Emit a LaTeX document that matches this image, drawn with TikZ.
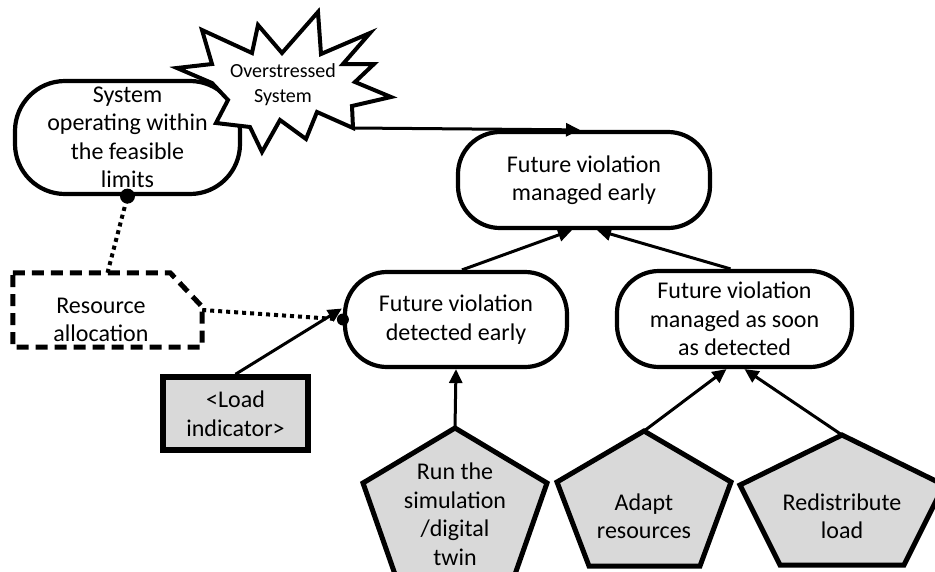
\documentclass[tikz,border=0pt]{standalone}
\usepackage{fontspec}
\setmainfont{Carlito}
\usetikzlibrary{arrows.meta,calc}
\newcommand\mainfs{\fontsize{24}{28.5}\selectfont}
\newcommand\starfs{\fontsize{20}{25}\selectfont}
\definecolor{taskgray}{HTML}{D9D9D9}
\begin{document}
\begin{tikzpicture}[x=1pt,y=-1pt,
  goal/.style={draw,line width=4.2pt,rounded corners=42pt,inner sep=0pt,align=center,font=\mainfs},
  task/.style={draw,line width=5pt,fill=taskgray,line join=miter},
  conn/.style={line width=3pt,-{Triangle[length=14pt,width=13pt]}},
  dotconn/.style={line width=4pt,dash pattern=on 4pt off 4pt},
  lbl/.style={inner sep=0pt,align=center,font=\mainfs}
]
\useasboundingbox (0,0) rectangle (935,571);
\clip (0,0) rectangle (935,571);

% goal nodes
\node[goal,minimum width=225pt,minimum height=113pt,rounded corners=50pt] (A) at (127.5,137.5) {System\\operating within\\the feasible\\limits};

% starburst
\draw[line width=4pt,fill=white,line join=miter] (202,30) -- (252,53) -- (258,25) -- (282,53) -- (318,12) -- (321,54) -- (370,33) -- (343,64) -- (374,64) -- (355,82) -- (391,97) -- (352,106) -- (353,128) -- (317,112) -- (306,139) -- (280,120) -- (262,152) -- (250,127) -- (216,123) -- (228,100) -- (212,83) -- (177,68) -- (212,64) -- cycle;
\node[inner sep=0pt,align=center,font=\starfs] (B) at (283,85) {Overstressed\\System};
\coordinate (Bc) at (353,128);

\node[goal,minimum width=252pt,minimum height=96pt] (C) at (584,180) {Future violation\\managed early};
\node[goal,minimum width=222pt,minimum height=95pt] (D) at (456,319.5) {Future violation\\detected early};
\node[goal,minimum width=235pt,minimum height=96pt] (E) at (734.5,319) {Future violation\\managed as soon\\as detected};

% resource allocation
\node[minimum width=189pt,minimum height=74pt,inner sep=0pt] (F) at (107.5,310) {};
\draw[line width=5pt,dash pattern=on 12pt off 7pt] (F.north west) -- ($(F.north east)+(-32,0)$) -- ($(F.north east)+(0,34)$) -- (F.south east) -- (F.south west) -- cycle;
\node[lbl] (Ft) at (101,320) {Resource\\allocation};

% load indicator
\node[task,line width=5.5pt,minimum width=145pt,minimum height=73pt,inner sep=0pt,align=center,font=\mainfs] (G) at (235.5,413.5) {<Load\\indicator>};

% pentagons
\draw[task] (455,428) -- (547,483) -- (513,580) -- (397,580) -- (363,483) -- cycle;
\coordinate (Ht) at (455,428);
\node[lbl] (H) at (455,514) {Run the\\simulation\\/digital\\twin};

\draw[task] (644,431) -- (731,482) -- (700,566) -- (589,566) -- (557,482) -- cycle;
\coordinate (It) at (644,431);
\node[lbl] (I) at (644,516) {Adapt\\resources};

\draw[task] (842,435) -- (944,485) -- (904,565) -- (780,565) -- (740,485) -- cycle;
\coordinate (Jt) at (842,435);
\node[lbl] (J) at (842,516) {Redistribute\\load};

% connectors
\draw[conn] (Bc) -- ($(C.north)+(-4,0)$);
\draw[conn] ($(D.north)+(6,0)$) -- ($(C.south)+(-12,0)$);
\draw[conn] ($(E.north)+(-4,0)$) -- ($(C.south)+(13,0)$);
\draw[conn] (Ht) -- (D.south);
\draw[conn] (It) -- ($(E.south)+(-8,0)$);
\draw[conn] (Jt) -- ($(E.south)+(10,0)$);
\draw[dotconn] (F.north) -- (A.south);
\fill (A.south) circle (7.5pt);
\draw[dotconn] (F.east) -- (D.west);
\fill (D.west) circle (6pt);
\draw[conn] (G.north) -- ($(D.west)+(-1,-11)$);
\end{tikzpicture}
\end{document}
